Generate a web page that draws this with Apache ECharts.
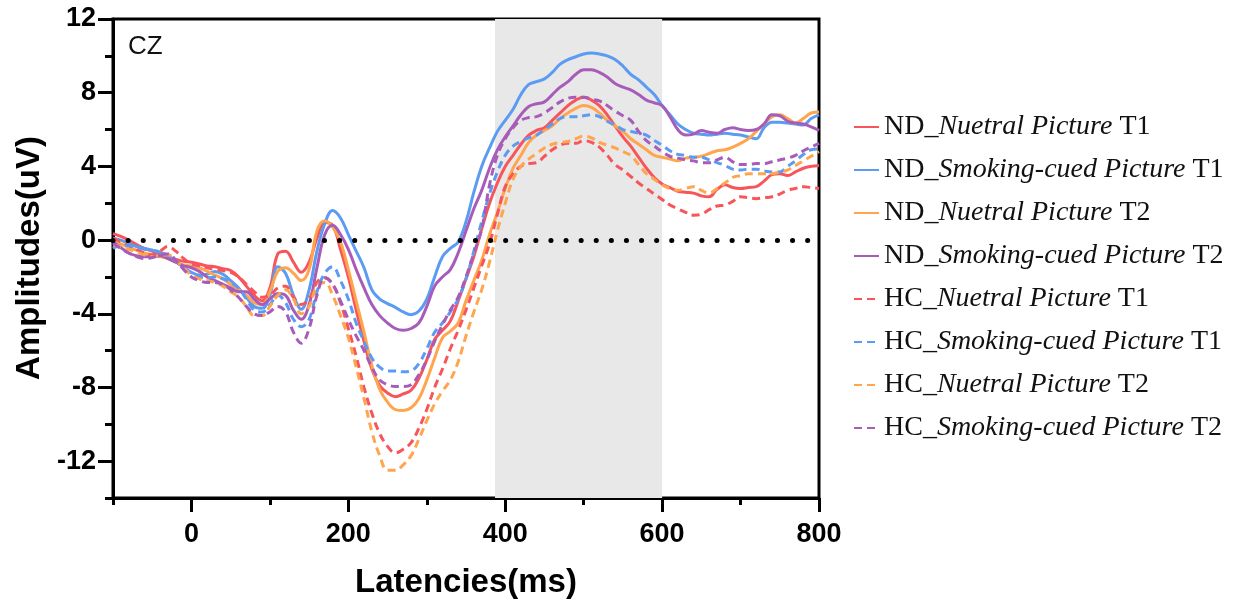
<!DOCTYPE html>
<html>
<head>
<meta charset="utf-8">
<script src="https://cdn.jsdelivr.net/npm/echarts@6/dist/echarts.min.js"></script>
<style>
html,body{margin:0;padding:0;background:#fff;}
#chart{width:1242px;height:604px;}
</style>
</head>
<body>
<div id="chart"></div>
<script>
// time axis (ms), every 10 ms
const times = [];
for (let t = -100; t <= 800; t += 10) times.push(t);

const seriesNames = [
  'ND_Nuetral Picture T1',
  'ND_Smoking-cued Picture T1',
  'ND_Nuetral Picture T2',
  'ND_Smoking-cued Picture T2',
  'HC_Nuetral Picture T1',
  'HC_Smoking-cued Picture T1',
  'HC_Nuetral Picture T2',
  'HC_Smoking-cued Picture T2'
];

const ndNeutralT1 = [0.35, 0.2, 0.0, -0.25, -0.45, -0.6, -0.8, -0.95, -1.05, -1.15,
 -1.2, -1.3, -1.4, -1.45, -1.55, -1.65, -2.0, -2.5, -3.0, -3.3,
 -2.6, -0.75, -0.6, -1.2, -1.75, -1.2, 0.1, 0.95, 0.8, -0.5,
 -2.0, -3.8, -5.5, -7.0, -7.9, -8.3, -8.5, -8.35, -8.15, -7.5,
 -6.5, -5.4, -4.9, -4.4, -3.3, -2.1, -0.9, 0.6, 2.0, 3.1,
 4.0, 4.6, 5.2, 5.7, 5.95, 6.1, 6.5, 6.9, 7.3, 7.6,
 7.75, 7.6, 7.3, 6.8, 6.2, 5.6, 5.1, 4.5, 3.9, 3.4,
 3.05, 2.85, 2.65, 2.6, 2.55, 2.4, 2.35, 2.75, 3.0, 2.85,
 2.8, 2.85, 2.9, 3.2, 3.55, 3.6, 3.5, 3.7, 3.9, 4.0,
 4.05];

const ndSmokingT1 = [0.1, 0.0, -0.2, -0.35, -0.45, -0.55, -0.65, -0.85, -1.15, -1.5,
 -1.75, -1.9, -1.85, -1.7, -1.85, -2.2, -2.6, -3.1, -3.6, -3.7,
 -3.0, -1.45, -1.8, -3.0, -3.75, -2.7, -0.6, 0.9, 1.6, 1.2,
 0.3, -0.6, -1.5, -2.7, -3.2, -3.45, -3.65, -3.9, -4.05, -3.85,
 -3.2, -2.0, -0.9, -0.45, -0.1, 1.0, 2.6, 4.0, 5.0, 5.9,
 6.5, 7.1, 7.9, 8.45, 8.6, 8.75, 9.1, 9.55, 9.8, 9.95,
 10.1, 10.15, 10.1, 10.0, 9.8, 9.45, 9.0, 8.7, 8.3, 7.9,
 7.3, 6.8, 6.3, 6.0, 5.8, 5.75, 5.7, 5.75, 5.8, 5.75,
 5.7, 5.6, 5.5, 6.1, 6.4, 6.4, 6.35, 6.3, 6.25, 6.6,
 6.8];

const ndNeutralT2 = [0.0, -0.2, -0.4, -0.55, -0.7, -0.8, -0.9, -1.0, -1.2, -1.35,
 -1.4, -1.5, -1.7, -1.9, -2.1, -2.4, -2.7, -3.0, -3.4, -3.5,
 -2.8, -1.7, -1.5, -1.8, -2.2, -1.6, 0.5, 1.05, 0.7, -0.1,
 -1.6, -3.3, -5.0, -6.8, -8.1, -8.8, -9.2, -9.25, -9.1, -8.6,
 -7.6, -6.4, -5.3, -4.95, -4.5, -3.3, -2.2, -1.1, 0.3, 1.5,
 2.8, 3.9, 4.6, 5.3, 5.7, 5.95, 6.2, 6.6, 6.9, 7.15,
 7.3, 7.2, 6.9, 6.5, 6.2, 5.9, 5.5, 5.2, 4.9, 4.6,
 4.5, 4.4, 4.3, 4.45, 4.5, 4.55, 4.7, 4.85, 4.9, 5.05,
 5.25, 5.5, 5.9, 6.3, 6.7, 6.8, 6.6, 6.35, 6.6, 6.9,
 6.95];

const ndSmokingT2 = [-0.1, -0.4, -0.7, -0.85, -0.9, -0.9, -0.85, -1.0, -1.2, -1.4,
 -1.5, -1.7, -2.0, -2.2, -2.4, -2.6, -2.8, -2.8, -3.2, -3.5,
 -3.2, -2.9, -3.0, -3.8, -4.3, -3.5, -1.5, 0.3, 0.8, 0.3,
 -0.5, -1.6, -2.6, -3.5, -4.1, -4.5, -4.8, -4.9, -4.8, -4.5,
 -3.6, -2.5, -2.0, -1.6, -0.7, 0.5, 1.7, 2.7, 3.9, 4.9,
 5.6, 6.2, 6.8, 7.25, 7.4, 7.5, 7.9, 8.3, 8.6, 9.0,
 9.25, 9.25, 9.1, 8.85, 8.5, 8.3, 8.15, 7.9, 7.6, 7.45,
 7.3, 6.7, 6.0, 5.7, 5.75, 5.95, 5.85, 5.8, 6.0, 6.1,
 6.0, 5.95, 6.0, 6.3, 6.8, 6.75, 6.45, 6.35, 6.3, 6.15,
 5.95];

const hcNeutralT1 = [0.1, -0.1, -0.3, -0.5, -0.7, -0.8, -0.6, -0.35, -0.6, -1.0,
 -1.3, -1.4, -1.5, -1.6, -1.65, -1.75, -2.0, -2.4, -2.8, -3.1,
 -3.0, -2.6, -2.5, -3.1, -3.5, -3.2, -2.3, -2.05, -2.4, -3.4,
 -4.8, -6.3, -8.0, -9.4, -10.5, -11.2, -11.55, -11.35, -11.0, -10.2,
 -9.2, -8.0, -7.0, -5.9, -4.9, -3.8, -2.6, -1.4, -0.2, 1.4,
 2.9, 3.6, 4.0, 4.15, 4.2, 4.55, 4.9, 5.15, 5.25, 5.25,
 5.4, 5.3, 5.05, 4.6, 4.1, 3.8, 3.45, 3.1, 2.8, 2.5,
 2.2, 1.9, 1.7, 1.5, 1.35, 1.4, 1.65, 1.85, 1.9, 2.1,
 2.35, 2.3, 2.25, 2.3, 2.35, 2.5, 2.7, 2.8, 2.9, 2.85,
 2.8];

const hcSmokingT1 = [-0.45, -0.3, -0.3, -0.4, -0.5, -0.55, -0.7, -0.8, -1.1, -1.5,
 -1.8, -2.0, -2.05, -2.0, -2.1, -2.3, -2.6, -3.2, -3.8, -3.9,
 -3.5, -3.0, -3.4, -4.3, -4.7, -4.3, -2.8, -1.8, -1.45, -2.2,
 -3.2, -4.5, -5.5, -6.4, -6.9, -7.1, -7.1, -7.15, -7.1, -6.7,
 -5.9, -5.0, -4.5, -3.9, -3.2, -2.1, -0.6, 1.0, 2.5, 3.7,
 4.6, 5.1, 5.35, 5.55, 5.7, 6.0, 6.3, 6.6, 6.7, 6.7,
 6.75, 6.8, 6.7, 6.45, 6.25, 6.0, 5.9, 5.8, 5.7, 5.4,
 5.15, 4.85, 4.65, 4.6, 4.5, 4.5, 4.35, 4.2, 4.05, 3.85,
 3.8, 3.85, 3.85, 3.75, 3.7, 3.7, 4.0, 4.3, 4.65, 4.9,
 4.95];

const hcNeutralT2 = [-0.3, -0.35, -0.5, -0.65, -0.8, -0.9, -0.85, -0.8, -1.1, -1.5,
 -1.9, -2.1, -2.2, -2.3, -2.5, -2.8, -3.1, -3.6, -4.1, -4.1,
 -3.6, -3.0, -2.7, -3.2, -4.0, -3.6, -2.5, -2.3, -3.0, -4.1,
 -5.3, -6.9, -8.6, -10.4, -11.7, -12.5, -12.5, -12.2, -11.7, -10.8,
 -9.8, -8.9, -8.2, -7.6, -6.6, -5.2, -3.9, -2.7, -1.2, 0.5,
 2.0, 3.3, 4.0, 4.4, 4.7, 5.0, 5.2, 5.3, 5.35, 5.5,
 5.65, 5.55, 5.3, 5.15, 5.0, 4.8, 4.6, 4.1, 3.6, 3.3,
 3.0, 2.8, 2.7, 2.8, 2.9, 2.7, 2.55, 2.8, 3.1, 3.4,
 3.5, 3.6, 3.6, 3.6, 3.6, 3.7, 3.8, 4.05, 4.3, 4.55,
 4.8];

const hcSmokingT2 = [-0.2, -0.45, -0.7, -0.9, -1.0, -0.95, -0.8, -0.75, -1.1, -1.6,
 -2.0, -2.2, -2.3, -2.3, -2.4, -2.7, -3.1, -3.6, -4.0, -4.1,
 -3.9, -3.6, -3.9, -5.0, -5.6, -4.8, -3.0, -2.05, -2.4, -3.3,
 -4.3, -5.2, -6.0, -6.9, -7.6, -7.85, -7.95, -7.95, -7.85, -7.3,
 -6.5, -5.5, -4.6, -3.8, -3.1, -2.0, -0.7, 0.6, 3.0, 4.6,
 5.5, 6.1, 6.5, 6.65, 6.7, 6.9, 7.2, 7.5, 7.7, 7.75,
 7.75, 7.65, 7.55, 7.3, 7.0, 6.75, 6.5, 5.9, 5.4, 5.1,
 4.8, 4.55, 4.45, 4.35, 4.3, 4.2, 4.2, 4.35, 4.5, 4.25,
 4.1, 4.1, 4.15, 4.15, 4.25, 4.35, 4.45, 4.6, 4.85, 5.05,
 5.25];

const seriesValues = [ndNeutralT1, ndSmokingT1, ndNeutralT2, ndSmokingT2,
                      hcNeutralT1, hcSmokingT1, hcNeutralT2, hcSmokingT2];

// analysis window (ms) and tick labels
const windowStart = 387, windowEnd = 600;
const xTickLabels = [0, 200, 400, 600, 800];
const yTickLabels = [-12, -8, -4, 0, 4, 8, 12];

const colors = ['#F8555B', '#5B9BF2', '#FFA54E', '#A75CBA', '#F8555B', '#5B9BF2', '#FFA54E', '#A75CBA'];

const chart = echarts.init(document.getElementById('chart'), null, {renderer: 'canvas'});

const L = 113, R = 423, T = 19, B = 106;
const plotW = 1242 - L - R, plotH = 604 - T - B;
const xZeroLeft = L + (0 - (-100)) / 900 * plotW;
const yM12Bottom = 604 - (T + (12 - (-12)) / 26 * plotH);

const boldFont = 'Liberation Sans, Arial, sans-serif';

const series = [{
  name: '__base',
  type: 'line',
  xAxisIndex: 0, yAxisIndex: 0,
  data: [],
  silent: true,
  z: 1,
  markArea: {
    silent: true,
    itemStyle: {color: '#e8e8e8'},
    data: [[{xAxis: windowStart}, {xAxis: windowEnd}]]
  },
  markLine: {
    silent: true,
    symbol: ['none', 'none'],
    label: {show: false},
    lineStyle: {color: '#000', width: 5, type: [0.1, 15], cap: 'round'},
    data: [{yAxis: 0}]
  }
}];

seriesNames.forEach((name, k) => {
  const dashed = k >= 4;
  series.push({
    name: name,
    type: 'line',
    xAxisIndex: 0, yAxisIndex: 0,
    data: times.map((t, i) => [t, seriesValues[k][i]]),
    showSymbol: false,
    symbol: 'none',
    smooth: 0.4,
    z: 3,
    lineStyle: {color: colors[k], width: 3, type: dashed ? [8, 5] : 'solid'},
    itemStyle: {color: colors[k]}
  });
});

const option = {
  animation: false,
  backgroundColor: '#fff',
  grid: [
    {left: L, right: R, top: T, bottom: B, show: true, borderColor: '#000', borderWidth: 3, backgroundColor: 'transparent'},
    {left: xZeroLeft, right: R, top: T, bottom: B, show: false},
    {left: L, right: R, top: T, bottom: yM12Bottom, show: false}
  ],
  xAxis: [
    {gridIndex: 0, type: 'value', min: -100, max: 800, interval: 100,
     axisLine: {show: true, onZero: false, lineStyle: {color: '#000', width: 3}},
     axisTick: {show: true, length: 7, lineStyle: {color: '#000', width: 3}},
     axisLabel: {show: false}, splitLine: {show: false}},
    {gridIndex: 1, type: 'value', min: 0, max: 800, interval: 200,
     axisLine: {show: false, onZero: false},
     axisTick: {show: true, length: 14, lineStyle: {color: '#000', width: 3}},
     axisLabel: {show: true, margin: 23, fontSize: 27, fontWeight: 'bold', color: '#000', fontFamily: boldFont,
       formatter: v => xTickLabels.indexOf(v) >= 0 ? String(v) : ''},
     splitLine: {show: false}},
    {gridIndex: 2, type: 'value', min: 0, max: 1, show: false}
  ],
  yAxis: [
    {gridIndex: 0, type: 'value', min: -14, max: 12, interval: 2,
     axisLine: {show: true, onZero: false, lineStyle: {color: '#000', width: 3}},
     axisTick: {show: true, length: 8, lineStyle: {color: '#000', width: 3}},
     axisLabel: {show: false}, splitLine: {show: false}},
    {gridIndex: 1, type: 'value', min: 0, max: 1, show: false},
    {gridIndex: 2, type: 'value', min: -12, max: 12, interval: 4,
     axisLine: {show: false, onZero: false},
     axisTick: {show: true, length: 15, lineStyle: {color: '#000', width: 3}},
     axisLabel: {show: true, margin: 17, fontSize: 27, fontWeight: 'bold', color: '#000', fontFamily: boldFont,
       formatter: v => yTickLabels.indexOf(v) >= 0 ? String(v) : ''},
     splitLine: {show: false}}
  ],
  legend: {
    data: seriesNames,
    orient: 'vertical',
    left: 848,
    top: 108,
    itemWidth: 25,
    itemHeight: 14,
    itemGap: 15,
    itemStyle: {opacity: 0, borderWidth: 0},
    formatter: name => name.replace(/_(.*) (T\d)$/, '_{i|$1} $2'),
    textStyle: {
      fontFamily: 'Liberation Serif, Times New Roman, serif',
      fontSize: 28, lineHeight: 28, color: '#111',
      rich: {i: {fontFamily: 'Liberation Serif, Times New Roman, serif', fontSize: 28, lineHeight: 28, fontStyle: 'italic', color: '#111'}}
    }
  },
  graphic: [
    {type: 'text', x: 128, y: 47, style: {text: 'CZ', font: '26px Liberation Sans, Arial, sans-serif', fill: '#111', textAlign: 'left', textVerticalAlign: 'middle', verticalAlign: 'middle'}},
    {type: 'text', x: 466, y: 583, style: {text: 'Latencies(ms)', font: 'bold 33px Liberation Sans, Arial, sans-serif', fill: '#000', textAlign: 'center', align: 'center', textVerticalAlign: 'middle', verticalAlign: 'middle'}},
    {type: 'text', x: 30, y: 258, rotation: Math.PI / 2, style: {text: 'Amplitudes(uV)', font: 'bold 33px Liberation Sans, Arial, sans-serif', fill: '#000', textAlign: 'center', align: 'center', textVerticalAlign: 'middle', verticalAlign: 'middle'}}
  ],
  series: series
};

chart.setOption(option);
</script>
</body>
</html>
